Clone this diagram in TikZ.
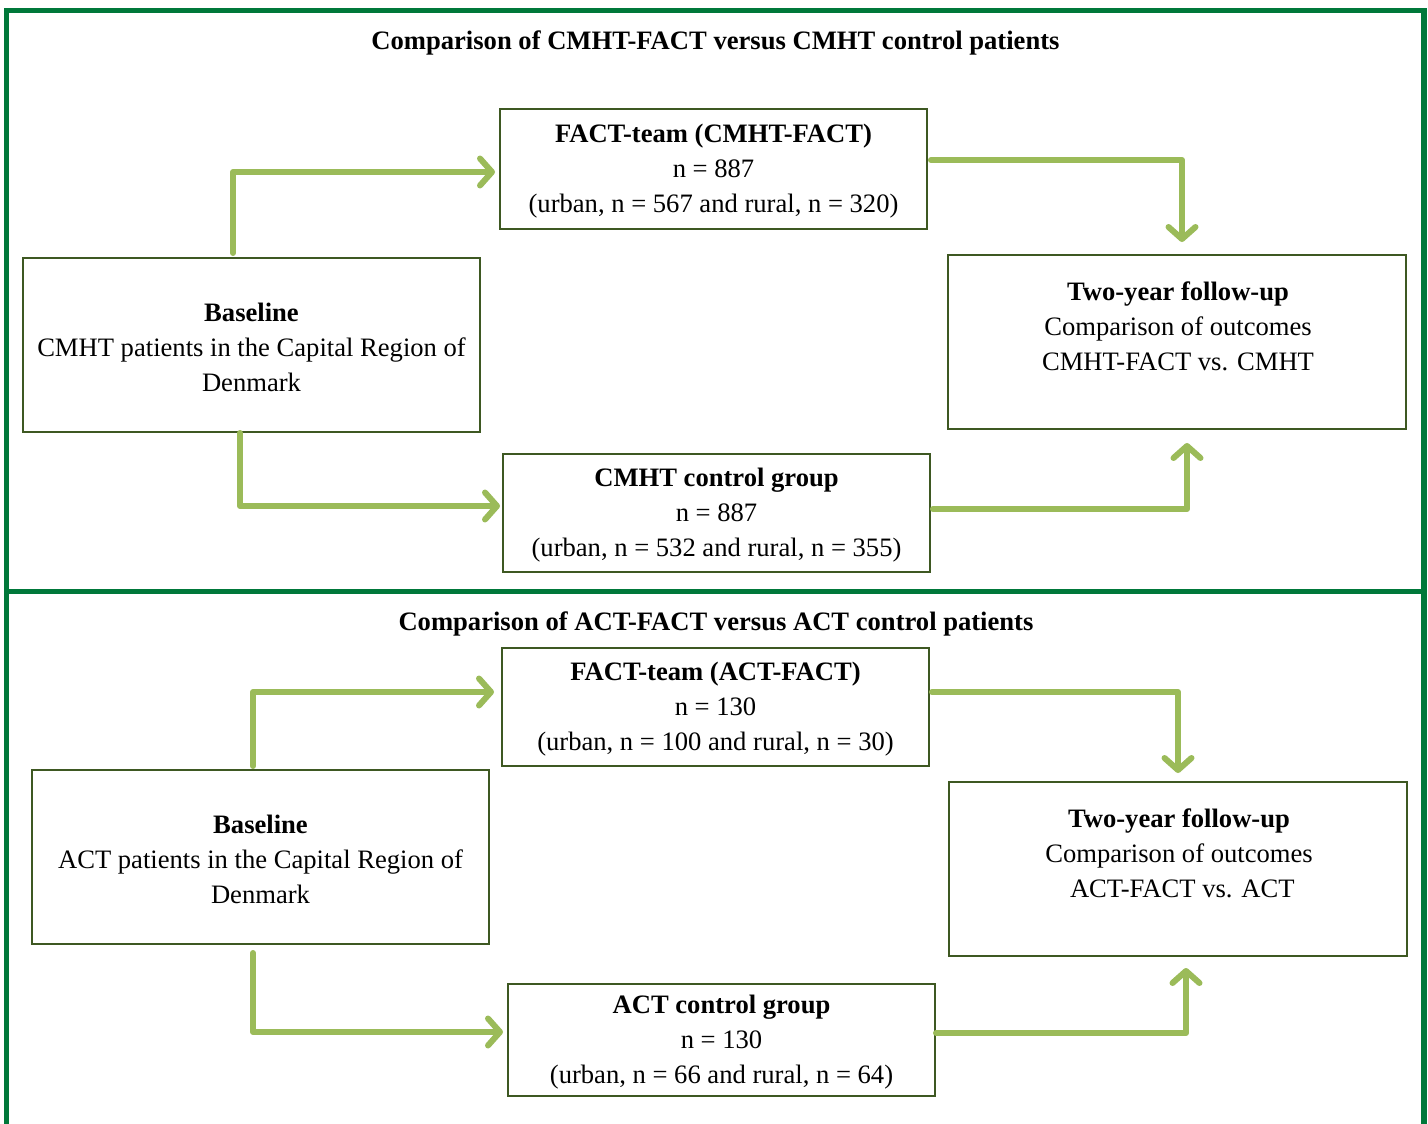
\documentclass[tikz,border=0pt]{standalone}
\usepackage{fontspec}
\setmainfont{Liberation Serif}
\usetikzlibrary{arrows.meta,calc}
\definecolor{framegreen}{RGB}{0,120,58}
\definecolor{boxgreen}{RGB}{62,88,34}
\definecolor{arrowgreen}{RGB}{155,187,89}
\begin{document}
\begin{tikzpicture}[x=1pt,y=-1pt,
  box/.style={draw=boxgreen,line width=2pt,rectangle,inner sep=0pt},
  txt/.style={align=center,font=\fontsize{26.6}{35}\selectfont,inner sep=0pt,yshift=-2.5pt},
  ttl/.style={font=\fontsize{26.6}{35}\selectfont\bfseries,inner sep=0pt,yshift=-2.5pt},
  arr/.style={draw=arrowgreen,line width=6pt,line join=round,line cap=round,
    -{Straight Barb[length=12pt,width=27pt,line cap=round,line join=round]}},
  frame/.style={draw=framegreen,line width=5.5pt}]
\useasboundingbox (0,0) rectangle (1428,1124);
\fill[white] (0,0) rectangle (1428,1124);
% frame
\draw[frame] (6.5,1124) -- (6.5,10.5) -- (1424,10.5) -- (1424,1124);
\draw[frame] (6.5,591.5) -- (1424,591.5);
% titles
\node[ttl] (title1) at (715.5,40) {Comparison of CMHT-FACT versus CMHT control patients};
\node[ttl] (title2) at (716,621) {Comparison of ACT-FACT versus ACT control patients};
% top section boxes
\node[box,minimum width=427pt,minimum height=120pt] (f1) at (713.5,169) {};
\node[txt] at (f1.center) {\textbf{FACT-team (CMHT-FACT)}\\n = 887\\(urban, n = 567 and rural, n = 320)};
\node[box,minimum width=457pt,minimum height=174pt] (b1) at (251.5,345) {};
\node[txt] at (b1.center) {\textbf{Baseline}\\CMHT patients in the Capital Region of\\Denmark};
\node[box,minimum width=458pt,minimum height=174pt] (t1) at (1177,342) {};
\node[txt] at (1178,324) {\textbf{Two-year follow-up}\\Comparison of outcomes\\CMHT-FACT vs. CMHT};
\node[box,minimum width=427pt,minimum height=118pt] (c1) at (716.5,513) {};
\node[txt] at (c1.center) {\textbf{CMHT control group}\\n = 887\\(urban, n = 532 and rural, n = 355)};
% bottom section boxes
\node[box,minimum width=427pt,minimum height=118pt] (f2) at (715.5,707) {};
\node[txt] at (f2.center) {\textbf{FACT-team (ACT-FACT)}\\n = 130\\(urban, n = 100 and rural, n = 30)};
\node[box,minimum width=457pt,minimum height=174pt] (b2) at (260.5,857) {};
\node[txt] at (b2.center) {\textbf{Baseline}\\ACT patients in the Capital Region of\\Denmark};
\node[box,minimum width=458pt,minimum height=174pt] (t2) at (1178,869) {};
\node[txt] at (1179,851) {\textbf{Two-year follow-up}\\Comparison of outcomes\\\ ACT-FACT vs. ACT};
\node[box,minimum width=427pt,minimum height=112pt] (c2) at (721.5,1040) {};
\node[txt] at (c2.center) {\textbf{ACT control group}\\n = 130\\(urban, n = 66 and rural, n = 64)};
% top arrows
\draw[arr,shorten >=4pt,shorten <=4pt] ([xshift=-18.5pt]b1.north) |- ([yshift=-3pt]f1.west);
\draw[arr,shorten >=12pt,shorten <=3pt] ([yshift=9pt]f1.east) -| ([xshift=5pt]t1.north);
\draw[arr,shorten >=2pt] ([xshift=-11.5pt]b1.south) |- ([yshift=7pt]c1.west);
\draw[arr,shorten >=13pt,shorten <=2pt] ([yshift=4pt]c1.east) -| ([xshift=10pt]t1.south);
% bottom arrows
\draw[arr,shorten >=7pt,shorten <=3pt] ([xshift=-7.5pt]b2.north) |- ([yshift=15pt]f2.west);
\draw[arr,shorten >=8pt,shorten <=2pt] ([yshift=15pt]f2.east) -| ([xshift=0pt]t2.north);
\draw[arr,shorten >=4pt,shorten <=8pt] ([xshift=-7.5pt]b2.south) |- ([yshift=8pt]c2.west);
\draw[arr,shorten >=11pt,shorten <=0pt] ([yshift=7pt]c2.east) -| ([xshift=8pt]t2.south);
\end{tikzpicture}
\end{document}
